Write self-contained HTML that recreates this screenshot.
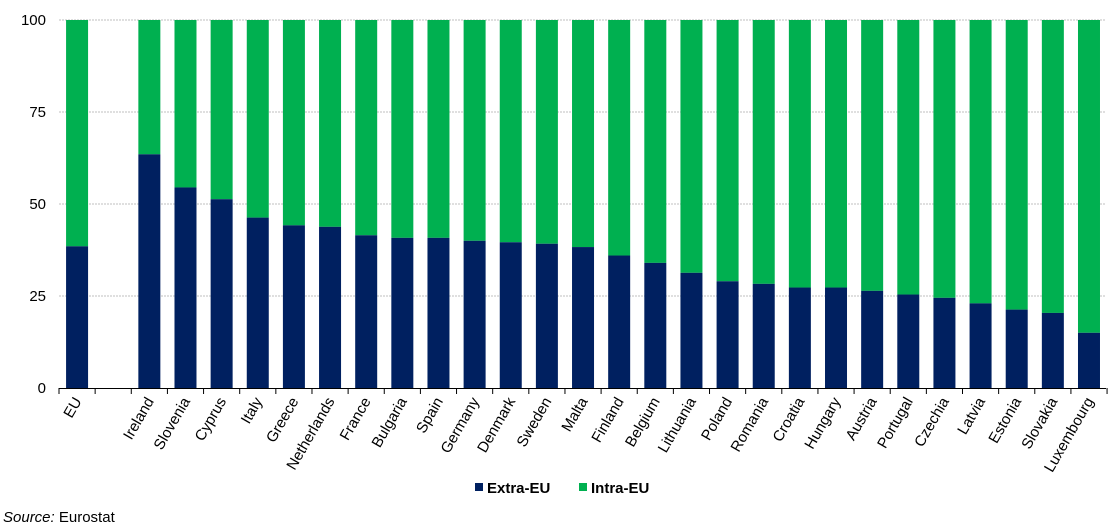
<!DOCTYPE html>
<html><head><style>body{margin:0;background:#fff}svg{display:block}text{font-family:"Liberation Sans",Arial,sans-serif;fill:#000}</style></head>
<body>
<svg width="1112" height="529" xmlns="http://www.w3.org/2000/svg" id="c"></svg>
<script>
const d=[["EU",38.5],["",null],["Ireland",63.5],["Slovenia",54.5],["Cyprus",51.3],["Italy",46.3],["Greece",44.2],["Netherlands",43.8],["France",41.5],["Bulgaria",40.8],["Spain",40.8],["Germany",40],["Denmark",39.6],["Sweden",39.2],["Malta",38.3],["Finland",36],["Belgium",34],["Lithuania",31.3],["Poland",29],["Romania",28.3],["Croatia",27.3],["Hungary",27.3],["Austria",26.4],["Portugal",25.4],["Czechia",24.5],["Latvia",23],["Estonia",21.3],["Slovakia",20.4],["Luxembourg",15]];
let s='';const L=59,T=20,B=388,sw=36.14,k=3.68;
for(let v=0;v<=100;v+=25){const y=B-v*k;if(v>0)s+=`<line x1="${L}" x2="1106" y1="${y}" y2="${y}" stroke="#bfbfbf" stroke-dasharray="2,1" stroke-width="1"/>`;s+=`<text x="46" y="${y+5}" font-size="15" text-anchor="end">${v}</text>`;}
d.forEach((e,i)=>{const cx=L+sw*(i+0.5),x=cx-11;
if(e[1]!==null){const h=e[1]*k;s+=`<rect x="${x}" y="${T}" width="22" height="${B-T-h}" fill="#00b050"/><rect x="${x}" y="${B-h}" width="22" height="${h}" fill="#002060"/>`;}
s+=`<text font-size="15" text-anchor="end" transform="translate(${cx+5},${401}) rotate(-60)">${e[0]}</text>`;});
s+=`<line x1="${L}" x2="1106" y1="388.5" y2="388.5" stroke="#000"/>`;
for(let i=0;i<=29;i++){const x=L+sw*i;s+=`<line x1="${x}" x2="${x}" y1="388" y2="394" stroke="#000"/>`;}
s+=`<rect x="475" y="483" width="8" height="8" fill="#002060"/><text x="487" y="493" font-size="15" font-weight="bold">Extra-EU</text>`;
s+=`<rect x="579" y="483" width="8" height="8" fill="#00b050"/><text x="591" y="493" font-size="15" font-weight="bold">Intra-EU</text>`;
s+=`<text x="3" y="522" font-size="15"><tspan font-style="italic">Source:</tspan> Eurostat</text>`;
document.getElementById('c').innerHTML=s;
</script>
</body></html>
